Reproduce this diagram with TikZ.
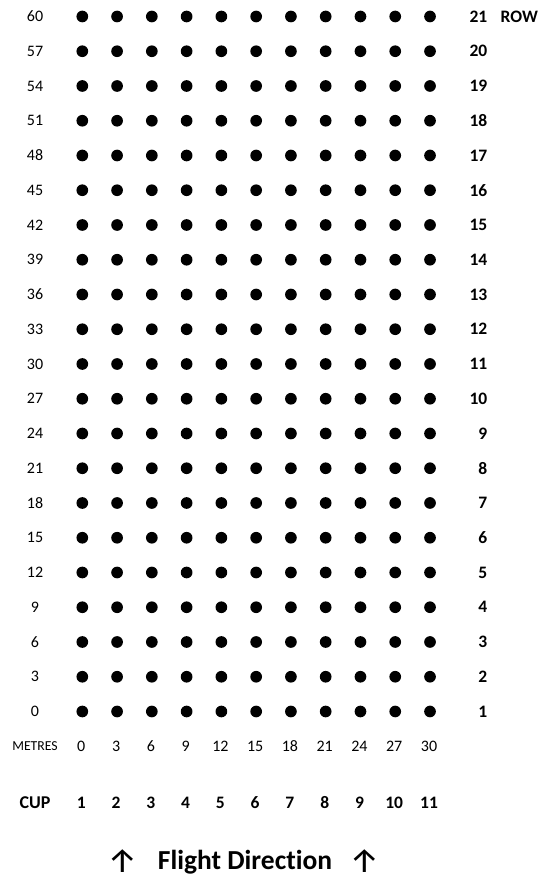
\documentclass[tikz,border=0pt]{standalone}
\usepackage{fontspec}
\setmainfont{Carlito}[Numbers=Lining, Ligatures=NoCommon]
\newfontfamily\arrowfont{Fira Sans}
\usetikzlibrary{positioning}

\begin{document}
\begin{tikzpicture}[x=1pt, y=1pt,
    cup/.style={circle, fill=black, inner sep=0pt, minimum size=11.7pt},
    dist/.style={font=\fontsize{16}{18}\selectfont, inner sep=0pt},
    rowno/.style={font=\fontsize{17.5}{20}\selectfont\bfseries, inner sep=0pt},
    metre/.style={font=\fontsize{16}{18}\selectfont, inner sep=0pt},
    cupno/.style={font=\fontsize{17.5}{20}\selectfont\bfseries, inner sep=0pt},
    flight/.style={font=\fontsize{27.5}{30}\selectfont\bfseries, inner sep=0pt, anchor=base},
    uparrow/.style={font=\fontsize{34}{36}\selectfont\arrowfont, inner sep=0pt}
  ]
    \useasboundingbox (0,0) rectangle (540,877);

    % field of cups, distance and row labels
    \foreach \r in {1,...,21} {
      \foreach \c in {1,...,11} {
        \node[cup] (d-\c-\r) at ({82.3+(\c-1)*34.77}, {165.5+(\r-1)*34.75}) {};
      }
      \pgfmathtruncatemacro\m{3*(\r-1)}
      \node[dist] (m-\r) at (35, {165.5+(\r-1)*34.75}) {\m};
      \node[rowno, anchor=east] (r-\r) at (487.5, {165.5+(\r-1)*34.75}) {\r};
    }
    \node[rowno, right=13pt of r-21] (rowlbl) {ROW};

    % metres along the row
    \node[metre, font=\fontsize{13.7}{15}\selectfont] (metres) at (35, 130.5) {METRES};
    \foreach \c in {1,...,11} {
      \pgfmathtruncatemacro\v{3*(\c-1)}
      \node[metre] (v-\c) at ([xshift=-1pt]d-\c-1 |- metres) {\v};
    }

    % cup numbers
    \node[cupno, font=\fontsize{18}{20}\selectfont\bfseries] (cuplbl) at (35, 74.5) {CUP};
    \foreach \c in {1,...,11} {
      \node[cupno] (c-\c) at ([xshift=-1pt]d-\c-1 |- cuplbl) {\c};
    }

    % direction
    \node[flight] (flight) at (245, 8) {Flight Direction};
    \node[uparrow] (up-l) at (123, 16) {↑};
    \node[uparrow] (up-r) at (364.5, 16) {↑};
\end{tikzpicture}
\end{document}
